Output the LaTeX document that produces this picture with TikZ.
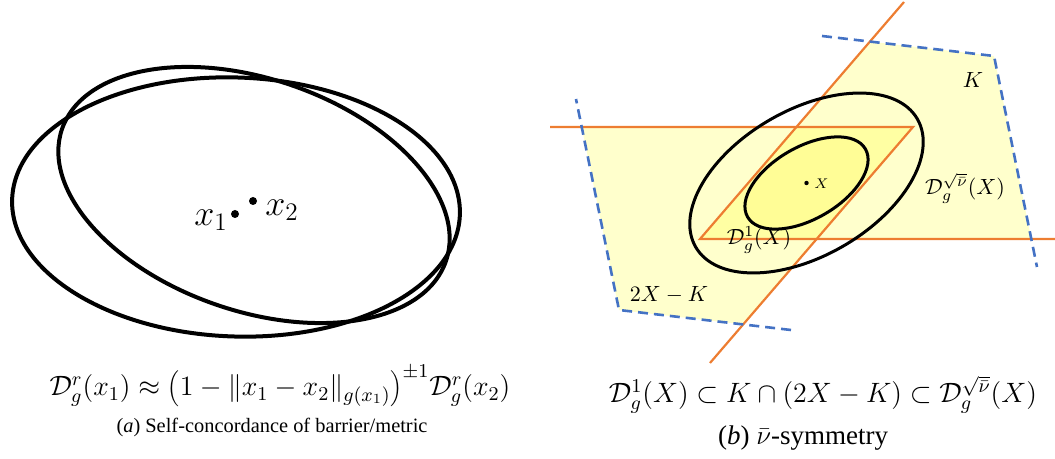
\RequirePackage{fix-cm}
\documentclass[tikz,border=0pt]{standalone}
\usepackage{fontspec}
\setmainfont{Liberation Serif}
\definecolor{ConeOrange}{RGB}{237, 125, 49}
\definecolor{BoundBlue}{RGB}{68, 114, 196}
\definecolor{SetYellow}{RGB}{255, 255, 0}

\begin{document}
\begin{tikzpicture}[x=0.5pt, y=-0.5pt,
        ball/.style={line width=2pt},
        dikin/.style={line width=1.5pt},
        cone/.style={ConeOrange, line width=1.1pt},
        bound/.style={BoundBlue, line width=1.3pt, dash pattern=on 5pt off 3pt},
        region/.style={fill=SetYellow, fill opacity=0.2},
        biglbl/.style={font=\fontsize{18}{20}\selectfont, inner sep=0pt},
        setlbl/.style={font=\fontsize{11}{13}\selectfont, inner sep=0pt},
        formula/.style={font=\fontsize{14}{16}\selectfont, anchor=base, inner sep=0pt},
        caption/.style={font=\fontsize{10.2}{12}\selectfont, anchor=base, inner sep=0pt}]
        \useasboundingbox (0,0) rectangle (1055,459);
        % (a) self-concordance
        \draw[ball, rotate around={-2:(236,207)}] (236,207) ellipse (224 and 129.5);
        \draw[ball, rotate around={-19:(254,195)}] (254,195) ellipse (203 and 116);
        \coordinate (x1) at (235,214);
        \coordinate (x2) at (253,201);
        \foreach \p in {x1, x2} { \fill (\p) circle (4); }
        \node[biglbl] (x1lbl) at (211,220) {$x_1$};
        \node[biglbl] (x2lbl) at (282,210) {$x_2$};
        \node[formula] (fa) at (280,396) {$\mathcal{D}_g^r(x_1)\approx\Bigl(1-\|x_1-x_2\|_{g(x_1)}\Bigr)^{\pm1}\mathcal{D}_g^r(x_2)$};
        \node[caption] (capa) at (272,433) {(\textit{a}) Self-concordance of barrier/metric};
        % (b) symmetry
        \coordinate (X) at (806.5,183);
        \coordinate (P) at (700,239);
        \coordinate (Q) at (913,127);
        \path[region] (870,41.6) -- (994,56) -- (1031.3,239) -- (P) -- cycle;
        \path[region] (Q) -- (581.7,127) -- (619,310) -- (743,324.4) -- cycle;
        \fill[SetYellow!85!ConeOrange, fill opacity=0.08, rotate around={30:(X)}] (X) ellipse (68 and 36);
        \draw[cone] (550,127) -- (Q) -- (710,363);
        \draw[cone] (1055,239) -- (P) -- (904,2);
        \draw[bound] (822,36) -- (994,56) -- (1037,267);
        \draw[bound] (791,330) -- (619,310) -- (576,99);
        \draw[dikin, rotate around={30:(X)}] (X) ellipse (128 and 73);
        \draw[dikin, rotate around={30:(X)}] (X) ellipse (68 and 36);
        \fill (X) circle (2.2);
        \node[font=\scriptsize, anchor=west, inner sep=1pt] (Xlbl) at (812,184) {$X$};
        \node[setlbl] (Klbl) at (973,80) {$K$};
        \node[setlbl] (Rlbl) at (759,240) {$\mathcal{D}_g^1(X)$};
        \node[setlbl] (Slbl) at (965,188) {$\mathcal{D}_g^{\sqrt{\bar\nu}}(X)$};
        \node[setlbl] (Mlbl) at (669,295) {$2X-K$};
        \node[formula] (fb) at (823,403) {$\mathcal{D}_g^1(X)\subset K\cap(2X-K)\subset\mathcal{D}_g^{\sqrt{\bar\nu}}(X)$};
        \node[caption, font=\fontsize{13.5}{15}\selectfont] (capb) at (803,445) {(\textit{b}) $\bar\nu$-symmetry};
    \end{tikzpicture}
\end{document}
